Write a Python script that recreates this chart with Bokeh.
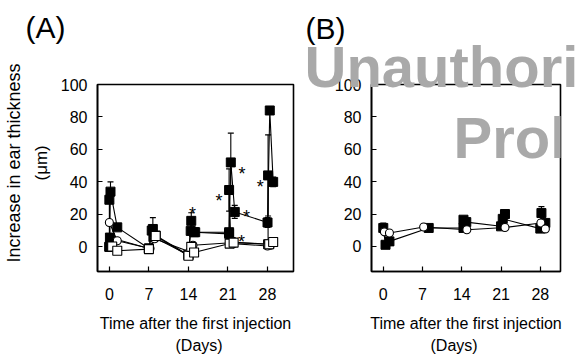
import math
from bokeh.plotting import figure
from bokeh.models import Range1d, Label, FixedTicker, Title
from bokeh.layouts import row
from bokeh.embed import file_html
from bokeh.resources import INLINE
from bokeh.core.properties import value

FONT = "Liberation Sans"
DAY_TICKS = [0, 7, 14, 21, 28]
Y_TICKS = [0, 20, 40, 60, 80, 100]

# ---------------- Panel A data ----------------
a_f1_day = [0.0, 0.2, 1.4, 7.0, 7.7, 8.2, 14.0, 14.5, 15.2, 21.2, 21.5, 22.2, 28.0, 28.4, 29.0]
a_f1_val = [0, 34, 12, -1, 11, 7, -5, 16, 9, 9, 52, 21.5, 15, 84, 40]

a_f2_day = [0.0, 0.0, 0.1, 7.0, 7.5, 7.8, 14.0, 14.4, 15.0, 21.2, 21.2, 21.5, 28.1, 28.1]
a_f2_val = [0, 29, 5.7, -1, 10, 6, -5, 9.8, 9, 8, 35, 3, 1.6, 44]

a_os_day = [0.5, 1.4, 7.0, 8.2, 14.0, 14.5, 15.0, 21.3, 22.0, 28.3, 29.0]
a_os_val = [0.2, -2.4, -1.4, 6.7, -5.5, 0, -3.5, 2, 2.6, 1.6, 3]

a_oc_day = [0.0, 1.4, 7.2, 8.0, 14.2, 14.8, 21.5, 22.0, 28.0, 28.5]
a_oc_val = [15, 3.7, -1, 5, -3, 1, 2.5, 2, 0.5, 1]

a_err_day = [0.2, 7.7, 14.5, 21.5, 21.2, 22.2, 28.1, 29.0, 28.0]
a_err_val = [34, 11, 16, 52, 35, 21.5, 44, 40, 15]
a_err_size = [6, 7, 5, 18, 13, 4, 25, 3, 3]

a_star_day = [14.7, 19.4, 23.5, 24.3, 23.4, 26.7]
a_star_val = [25.6, 33.7, 50.4, 24, 8.7, 42.7]

# ---------------- Panel B data ----------------
b_f_day = [0.0, 0.4, 1.1, 8.1, 14.3, 14.3, 14.8, 21.0, 21.7, 21.3, 28.0, 28.2, 28.9]
b_f_val = [11.4, 1.0, 3.1, 11.4, 11.4, 16.5, 15, 12.4, 20, 17, 11, 20.6, 14.5]

b_oc_day = [0.2, 1.1, 7.2, 14.9, 21.7, 28.1, 28.9]
b_oc_val = [9.0, 8.3, 12, 10.3, 11.7, 14.5, 10.8]

b_err_day = [0.0, 21.7, 28.2]
b_err_val = [11.4, 20, 20.6]
b_err_size = [3, 2, 4]

H = 356
TOP = 84
BOTTOM = 85


def make_fig(width, left, right, xr, yr):
    p = figure(width=width, height=H, x_range=Range1d(*xr), y_range=Range1d(*yr),
               output_backend="svg", toolbar_location=None,
               min_border_left=left, min_border_right=right,
               min_border_top=TOP, min_border_bottom=BOTTOM)
    p.grid.visible = False
    p.outline_line_color = "black"
    p.outline_line_width = 1.6
    p.background_fill_color = "white"
    p.border_fill_color = "white"
    for ax in (p.xaxis[0], p.yaxis[0]):
        ax.axis_line_color = "black"
        ax.axis_line_width = 1.6
        ax.major_tick_in = 5
        ax.major_tick_out = 0
        ax.major_tick_line_color = "black"
        ax.major_tick_line_width = 1.2
        ax.minor_tick_line_color = None
        ax.major_label_text_font = FONT
        ax.major_label_text_font_size = "16px"
        ax.major_label_text_color = "black"
    xa = p.xaxis[0]
    xa.ticker = FixedTicker(ticks=DAY_TICKS)
    xa.major_label_standoff = 16
    xa.axis_label = "Time after the first injection"
    xa.axis_label_text_font = FONT
    xa.axis_label_text_font_size = "16px"
    xa.axis_label_text_font_style = "normal"
    xa.axis_label_text_color = "black"
    xa.axis_label_standoff = 12
    ya = p.yaxis[0]
    ya.ticker = FixedTicker(ticks=Y_TICKS)
    ya.major_label_standoff = 10
    return p


def make_title(text, size, align="left", offset=0, standoff=0, valign="top",
               color="black", style="normal"):
    return Title(text=text, align=align, offset=offset, standoff=standoff,
                 vertical_align=valign, text_font=FONT, text_font_size=size,
                 text_font_style=style, text_color=color)


def style_main_title(p, text, offset):
    t = p.title
    t.text = text
    t.align = "left"
    t.offset = offset
    t.standoff = 0
    t.vertical_align = "top"
    t.text_font = FONT
    t.text_font_size = "30px"
    t.text_font_style = "normal"
    t.text_color = "black"


def errbars(p, xs, ys, es):
    lo = [y - e for y, e in zip(ys, es)]
    hi = [y + e for y, e in zip(ys, es)]
    p.segment(x0=xs, y0=lo, x1=xs, y1=hi, line_color="black", line_width=1.1)
    p.scatter(xs, hi, marker="dash", size=6, line_color="black", line_width=1.2)
    p.scatter(xs, lo, marker="dash", size=6, line_color="black", line_width=1.2)


# ---------------- Figure A ----------------
pA = make_fig(300, 97, 7, (-2.1, 32.6), (-15.2, 100))
for xs, ys in [(a_f1_day, a_f1_val), (a_f2_day, a_f2_val), (a_os_day, a_os_val), (a_oc_day, a_oc_val)]:
    pA.line(xs, ys, line_color="black", line_width=1.1)
errbars(pA, a_err_day, a_err_val, a_err_size)
pA.scatter(a_f1_day, a_f1_val, marker="square", size=9, fill_color="black", line_color="black")
pA.scatter(a_f2_day, a_f2_val, marker="square", size=9, fill_color="black", line_color="black")
pA.scatter(a_oc_day, a_oc_val, marker="circle", size=8, fill_color="white", line_color="black", line_width=1.1)
pA.scatter(a_os_day, a_os_val, marker="square", size=9, fill_color="white", line_color="black", line_width=1.1)
pA.text(x=a_star_day, y=a_star_val, text=["*"] * len(a_star_day), text_font=value(FONT),
        text_font_size="18px", text_align="center", text_baseline="alphabetic", y_offset=9,
        text_color="black")

style_main_title(pA, "(A)", -72)
pA.add_layout(make_title(" ", "10px", standoff=26, valign="top"), "above")
pA.add_layout(make_title("(\u03bcm)", "17px", offset=91, standoff=12, valign="middle"), "left")
pA.add_layout(make_title("Increase in ear thickness", "18px", offset=9, standoff=0, valign="middle"), "left")
pA.add_layout(make_title("(Days)", "16px", offset=78, standoff=0, valign="bottom"), "below")

# ---------------- Figure B ----------------
pB = make_fig(276, 71, 16, (-2.1, 31.6), (-15.5, 100))
pB.add_layout(Label(x=82, y=134, x_units="screen", y_units="screen", text="Prohibited",
                    text_align="left", text_baseline="alphabetic", text_font=FONT,
                    text_font_size="58px", text_font_style="bold", text_color="#a9a9a9",
                    level="underlay"))
for xs, ys in [(b_f_day, b_f_val), (b_oc_day, b_oc_val)]:
    pB.line(xs, ys, line_color="black", line_width=1.1)
errbars(pB, b_err_day, b_err_val, b_err_size)
pB.scatter(b_f_day, b_f_val, marker="square", size=9, fill_color="black", line_color="black")
pB.scatter(b_oc_day, b_oc_val, marker="circle", size=8, fill_color="white", line_color="black", line_width=1.1)

style_main_title(pB, "(B)", -66)
pB.add_layout(make_title("Unauthorized", "58px", offset=-67, standoff=-29, valign="bottom",
                         color="#a9a9a9", style="bold"), "above")
pB.add_layout(make_title("(Days)", "16px", offset=59, standoff=0, valign="bottom"), "below")

layout = row(pA, pB)
open("out.html", "w").write(file_html(layout, INLINE))
